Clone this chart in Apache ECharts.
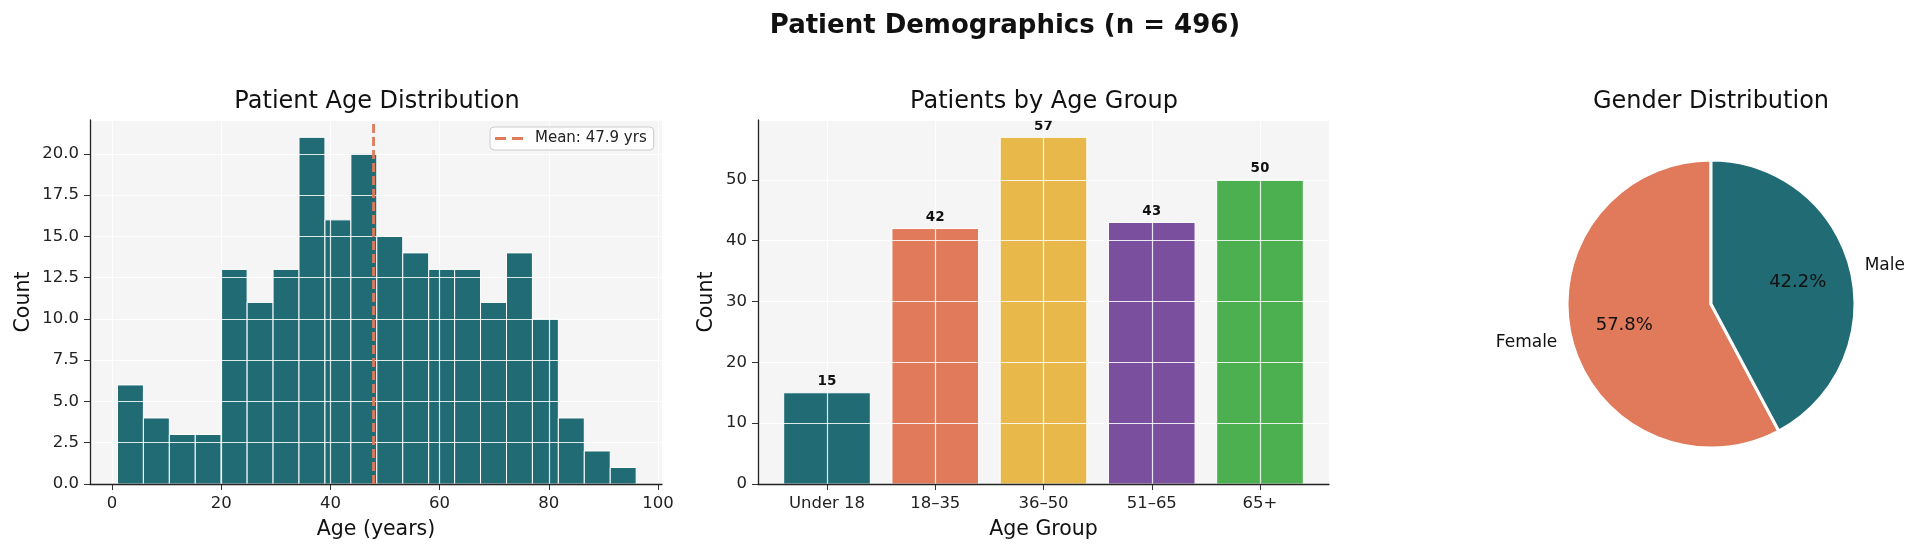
<!DOCTYPE html>
<html><head><meta charset="utf-8">
<script src="https://cdn.jsdelivr.net/npm/echarts@6/dist/echarts.min.js"></script>
<style>html,body{margin:0;padding:0;background:#fff}#c{width:1920px;height:555px}</style>
</head><body><div id="c"></div>
<script>
// ---- data ----
const binEdges = [1, 5.75, 10.5, 15.25, 20, 24.75, 29.5, 34.25, 39, 43.75, 48.5, 53.25, 58, 62.75, 67.5, 72.25, 77, 81.75, 86.5, 91.25, 96];
const binCounts = [6, 4, 3, 3, 13, 11, 13, 21, 16, 20, 15, 14, 13, 13, 11, 14, 10, 4, 2, 1];
const meanAge = 47.9;
const ageGroups = ['Under 18', '18–35', '36–50', '51–65', '65+'];
const groupCounts = [15, 42, 57, 43, 50];
const genderLabels = ['Female', 'Male'];
const genderPct = [57.8, 42.2];

// ---- styles ----
const TEAL = '#216b74', ORANGE = '#e07a5b', YELLOW = '#e8b84b', PURPLE = '#7a509e', GREEN = '#4caf50';
const groupColors = [TEAL, ORANGE, YELLOW, PURPLE, GREEN];
const FONT = 'DejaVu Sans';
const histMax = 22.05, barMax = 59.85;
const gridLine = {show: true, lineStyle: {color: 'rgba(255,255,255,0.85)', width: 1.2}};
const tick = {show: true, length: 6, lineStyle: {color: '#333', width: 1}};
const lbl = {fontFamily: FONT, fontSize: 16.5, color: '#222'};
const spine = {show: true, onZero: false, lineStyle: {color: '#222', width: 1.3}};
const nameStyle = {fontFamily: FONT, fontSize: 20.5, color: '#111'};
const noArea = {show: false};
const subTitle = {fontFamily: FONT, fontSize: 24, fontWeight: 'normal', color: '#111'};

const chart = echarts.init(document.getElementById('c'), null, {renderer: 'canvas'});
chart.setOption({
  animation: false,
  backgroundColor: '#fff',
  title: [
    {text: 'Patient Demographics (n = 496)', left: 1000, top: 8, textAlign: 'center',
     textStyle: {fontFamily: FONT, fontSize: 26, fontWeight: 'bold', color: '#111'}},
    {text: 'Patient Age Distribution', left: 372, top: 85, textAlign: 'center', textStyle: subTitle},
    {text: 'Patients by Age Group', left: 1039, top: 85, textAlign: 'center', textStyle: subTitle},
    {text: 'Gender Distribution', left: 1706, top: 85, textAlign: 'center', textStyle: subTitle}
  ],
  legend: {
    left: 490, top: 127, orient: 'horizontal', selectedMode: false,
    data: [{name: 'Mean: ' + meanAge + ' yrs', icon: 'path://M0 0H11V3H0Z M17 0H28V3H17Z'}],
    itemWidth: 30, itemHeight: 3,
    padding: [4, 7, 4, 5],
    backgroundColor: 'rgba(255,255,255,0.85)', borderColor: '#cccccc', borderWidth: 1, borderRadius: 4,
    textStyle: {fontFamily: FONT, fontSize: 15, color: '#222', padding: [0, 0, 0, 6]}
  },
  grid: [
    {left: 90, top: 120, width: 572, height: 364, show: true, backgroundColor: '#f5f5f5', borderWidth: 0},
    {left: 112, top: 120, width: 546, height: 364},
    {left: 758, top: 120, width: 571, height: 364, show: true, backgroundColor: '#f5f5f5', borderWidth: 0},
    {left: 827, top: 120, width: 433, height: 364}
  ],
  xAxis: [
    {gridIndex: 0, type: 'value', min: 0, max: 1, z: 4, axisLine: spine, axisTick: {show: false},
     axisLabel: {show: false}, splitLine: {show: false}, splitArea: noArea,
     name: 'Age (years)', nameLocation: 'middle', nameGap: 35, nameTextStyle: nameStyle},
    {gridIndex: 1, type: 'value', min: 0, max: 100, interval: 20, z: 3,
     axisLine: {show: false}, axisTick: tick, axisLabel: Object.assign({margin: 11}, lbl), splitLine: gridLine},
    {gridIndex: 2, type: 'value', min: 0, max: 1, z: 4, axisLine: spine, axisTick: {show: false},
     axisLabel: {show: false}, splitLine: {show: false}, splitArea: noArea,
     name: 'Age Group', nameLocation: 'middle', nameGap: 35, nameTextStyle: nameStyle},
    {gridIndex: 3, type: 'value', min: 0, max: ageGroups.length - 1, interval: 1, z: 3,
     axisLine: {show: false}, axisTick: tick, splitArea: noArea,
     axisLabel: Object.assign({margin: 11, formatter: v => ageGroups[v]}, lbl), splitLine: gridLine}
  ],
  yAxis: [
    {gridIndex: 0, type: 'value', min: 0, max: histMax, interval: 2.5, z: 3,
     axisLine: spine, axisTick: tick, splitArea: noArea,
     axisLabel: Object.assign({margin: 11, showMaxLabel: false, formatter: v => v.toFixed(1)}, lbl),
     splitLine: gridLine,
     name: 'Count', nameLocation: 'middle', nameGap: 56, nameTextStyle: nameStyle},
    {gridIndex: 1, type: 'value', min: 0, max: histMax, show: false},
    {gridIndex: 2, type: 'value', min: 0, max: barMax, interval: 10, z: 3,
     axisLine: spine, axisTick: tick, splitArea: noArea,
     axisLabel: Object.assign({margin: 11, showMaxLabel: false}, lbl),
     splitLine: gridLine,
     name: 'Count', nameLocation: 'middle', nameGap: 41, nameTextStyle: nameStyle},
    {gridIndex: 3, type: 'value', min: 0, max: barMax, show: false}
  ],
  series: [
    {
      type: 'custom', xAxisIndex: 1, yAxisIndex: 1, z: 2,
      data: binCounts.map((c, i) => [binEdges[i], binEdges[i + 1], c]),
      encode: {x: [0, 1], y: 2},
      renderItem: (params, api) => {
        const p0 = api.coord([api.value(0), 0]);
        const p1 = api.coord([api.value(1), api.value(2)]);
        return {type: 'rect', shape: {x: p0[0], y: p1[1], width: p1[0] - p0[0], height: p0[1] - p1[1]},
                style: {fill: TEAL, stroke: '#ffffff', lineWidth: 1}};
      }
    },
    {
      name: 'Mean: ' + meanAge + ' yrs', type: 'line', xAxisIndex: 1, yAxisIndex: 1, z: 5,
      data: [[meanAge, 0], [meanAge, histMax]], symbol: 'none', silent: true,
      itemStyle: {color: ORANGE},
      lineStyle: {color: ORANGE, width: 2.8, type: [9, 4]}
    },
    {
      type: 'custom', xAxisIndex: 3, yAxisIndex: 3, z: 2, clip: false,
      data: groupCounts.map((v, i) => [i, v]),
      encode: {x: 0, y: 1},
      renderItem: (params, api) => {
        const i = api.value(0);
        const base = api.coord([i, 0]);
        const top = api.coord([i, api.value(1)]);
        const half = api.size([0.8, 0])[0] / 2;
        return {type: 'group', children: [
          {type: 'rect', shape: {x: base[0] - half, y: top[1], width: half * 2, height: base[1] - top[1]},
           style: {fill: groupColors[i], stroke: '#ffffff', lineWidth: 1}},
          {type: 'text', x: top[0], y: top[1] - 4,
           style: {text: String(api.value(1)), align: 'center', verticalAlign: 'bottom',
                   font: 'bold 13.5px "DejaVu Sans"', fill: '#111'}, z2: 10}
        ]};
      }
    },
    {
      type: 'pie', center: [1711, 304], radius: 144, clockwise: false, startAngle: 90,
      avoidLabelOverlap: false, silent: true,
      data: genderLabels.map((n, i) => ({name: n, value: genderPct[i], itemStyle: {color: i === 0 ? ORANGE : TEAL}})),
      itemStyle: {borderColor: '#ffffff', borderWidth: 3},
      label: {show: true, position: 'outside', formatter: '{b}', distanceToLabelLine: 0,
              fontFamily: FONT, fontSize: 17, color: '#111'},
      labelLine: {show: false, length: 14.4, length2: 0}
    },
    {
      type: 'pie', center: [1711, 304], radius: [28.8, 144], clockwise: false, startAngle: 90,
      avoidLabelOverlap: false, silent: true, z: 3,
      data: genderLabels.map((n, i) => ({name: n, value: genderPct[i]})),
      itemStyle: {color: 'rgba(0,0,0,0)', borderWidth: 0},
      label: {show: true, position: 'inside', formatter: p => p.value.toFixed(1) + '%',
              fontFamily: FONT, fontSize: 18, color: '#111'},
      labelLine: {show: false}
    }
  ]
});
</script>
</body></html>
